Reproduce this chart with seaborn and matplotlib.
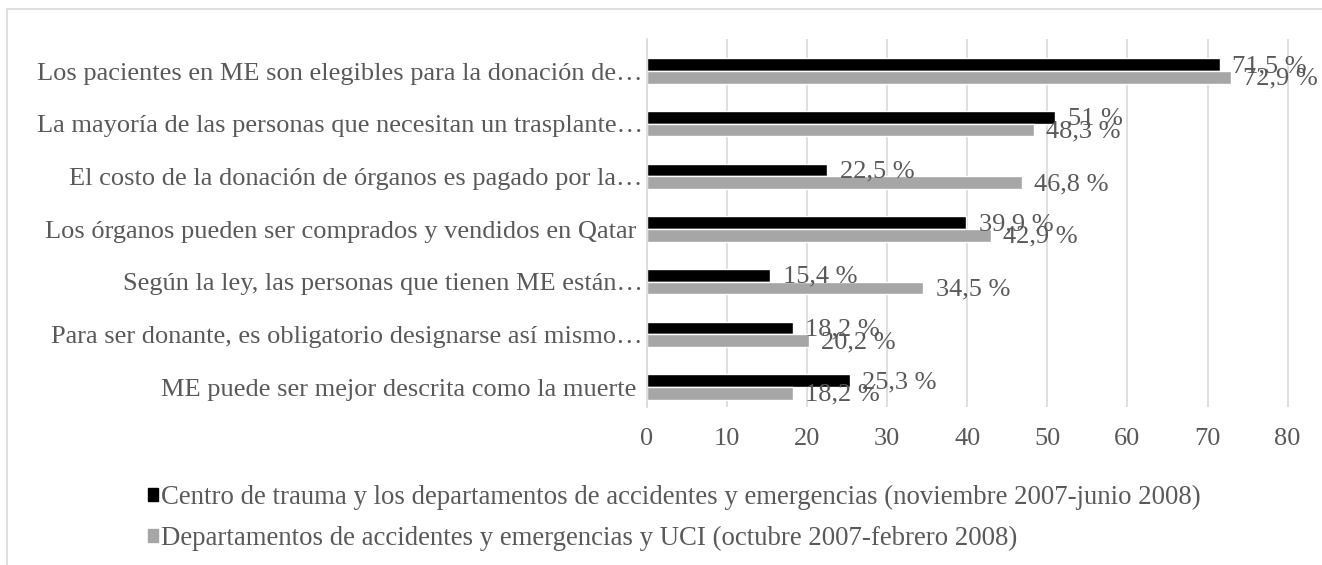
import matplotlib
matplotlib.use('Agg')
import matplotlib.pyplot as plt
import matplotlib.patches as mpatches
import pandas as pd
import seaborn as sns

# Chart data
categories = [
    'Los pacientes en ME son elegibles para la donación de…',
    'La mayoría de las personas que necesitan un trasplante…',
    'El costo de la donación de órganos es pagado por la…',
    'Los órganos pueden ser comprados y vendidos en Qatar ',
    'Según la ley, las personas que tienen ME están…',
    'Para ser donante, es obligatorio designarse así mismo…',
    'ME puede ser mejor descrita como la muerte ',
]
series_names = [
    'Centro de trauma y los departamentos de accidentes y emergencias (noviembre 2007-junio 2008)',
    'Departamentos de accidentes y emergencias y UCI (octubre 2007-febrero 2008)',
]
trauma_values = [71.5, 51, 22.5, 39.9, 15.4, 18.2, 25.3]
uci_values = [72.9, 48.3, 46.8, 42.9, 34.5, 20.2, 18.2]
x_ticks = [0, 10, 20, 30, 40, 50, 60, 70, 80]

TEXT_GRAY = '#595959'
BAR_COLORS = ['#000000', '#A6A6A6']
FONT_SIZE = 19

df = pd.DataFrame({
    'Pregunta': categories * 2,
    'Serie': [series_names[0]] * len(categories) + [series_names[1]] * len(categories),
    'Valor': trauma_values + uci_values,
})

sns.set_style('white')
plt.rcParams['font.family'] = ['Liberation Serif', 'DejaVu Serif']

fig = plt.figure(figsize=(13.22, 5.65), dpi=100)
ax = fig.add_axes([0.4894, 0.2796, 0.4876, 0.6513])

sns.barplot(data=df, x='Valor', y='Pregunta', hue='Serie', hue_order=series_names,
            order=categories, palette=BAR_COLORS, width=0.48, orient='h',
            saturation=1, ax=ax, legend=False)

# Value labels
for container in ax.containers:
    for bar in container:
        w = bar.get_width()
        txt = f'{w:g} %'.replace('.', ',')
        ax.annotate(txt, (w, bar.get_y() + bar.get_height() / 2),
                    xytext=(9, -1), textcoords='offset points',
                    va='center', ha='left', fontsize=FONT_SIZE, color=TEXT_GRAY)

ax.set_xlim(0, 80.5)
ax.set_ylim(6.38, -0.608)
ax.set_xticks(x_ticks)
ax.set_xlabel('')
ax.set_ylabel('')
ax.tick_params(axis='x', labelsize=FONT_SIZE, labelcolor=TEXT_GRAY, length=0, pad=15)
ax.tick_params(axis='y', labelsize=FONT_SIZE, labelcolor=TEXT_GRAY, length=0, pad=3)
ax.grid(axis='x', color='#D9D9D9', linewidth=1.2)
ax.set_axisbelow(True)
for side in ['top', 'right', 'bottom']:
    ax.spines[side].set_visible(False)
ax.spines['left'].set_color('#D9D9D9')
ax.spines['left'].set_linewidth(1.2)

# Legend below
handles = [mpatches.Patch(color=c, label=n) for c, n in zip(BAR_COLORS, series_names)]
leg = fig.legend(handles=handles, loc='upper left', bbox_to_anchor=(0.112, 0.142),
                 frameon=False, fontsize=19.3, labelcolor=TEXT_GRAY,
                 handlelength=0.38, handleheight=0.38, handletextpad=0.11,
                 labelspacing=0.6, borderaxespad=0, borderpad=0)

# Chart frame
fig.patches.append(mpatches.Rectangle((7 / 1322, -0.1), 1.2, 1 - 9 / 565 + 0.1,
                                      transform=fig.transFigure, fill=False,
                                      edgecolor='#D9D9D9', linewidth=1.2))

fig.savefig('out.png', dpi=100)
